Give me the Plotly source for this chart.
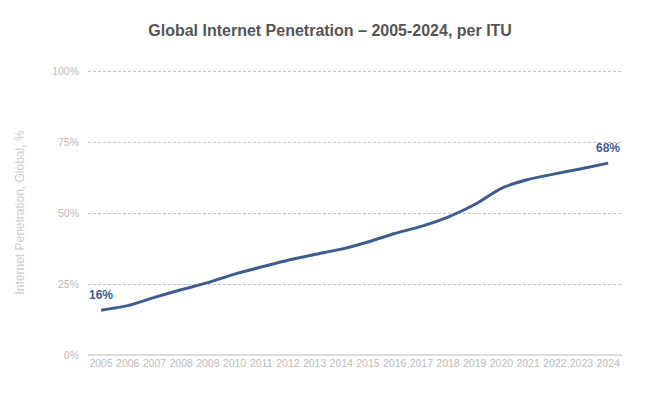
import plotly.graph_objects as go

years = list(range(2005, 2025))
penetration = [15.8, 17.4, 20.3, 23.0, 25.5, 28.5, 31.0, 33.4, 35.4, 37.3, 39.8, 42.8, 45.3, 48.6, 53.0, 58.7, 61.8, 63.8, 65.6, 67.6]
title_text = "Global Internet Penetration – 2005-2024, per ITU"
y_title = "Internet Penetration, Global, %"
line_color = "#3d5d8e"

fig = go.Figure()
fig.add_trace(go.Scatter(
    x=years, y=penetration, mode="lines",
    line=dict(color=line_color, width=3, shape="spline", smoothing=0.6),
    hoverinfo="skip", showlegend=False,
))

fig.add_annotation(x=years[0], y=penetration[0], text="<b>16%</b>", showarrow=False,
                   yshift=15, font=dict(color=line_color, size=12, family="Liberation Sans"))
fig.add_annotation(x=years[-1], y=penetration[-1], text="<b>68%</b>", showarrow=False,
                   yshift=15, font=dict(color=line_color, size=12, family="Liberation Sans"))

fig.update_layout(
    width=652, height=387,
    margin=dict(l=80, r=38, t=62, b=40),
    paper_bgcolor="white", plot_bgcolor="white",
    font=dict(family="Liberation Sans", color="#bbbbbb"),
    title=dict(text="<b>" + title_text + "</b>", x=0.494, xanchor="center", y=0.943, yanchor="middle",
               font=dict(size=16, color="#555555", family="Liberation Sans")),
    xaxis=dict(range=[2004.51, 2024.52], tickmode="array", tickvals=years, automargin=False,
               ticktext=[str(y) for y in years], tickfont=dict(size=10.5, color="#bbbbbb"),
               showgrid=False, zeroline=False, showline=False, ticks=""),
    yaxis=dict(range=[0, 100.4], tickvals=[0, 25, 50, 75, 100], automargin=False,
               ticktext=["0%", "25%", "50%", "75%", "100%"],
               tickfont=dict(size=10.5, color="#bbbbbb"),
               showgrid=True, gridcolor="#c4c4c4", griddash="3px,2px", gridwidth=1,
               zeroline=True, zerolinecolor="#dddddd", zerolinewidth=1.5,
               ticks="", ticklabelstandoff=8,
               title=dict(text=y_title, font=dict(size=12, color="#cccccc"), standoff=24)),
)

fig.write_html("out.html")
